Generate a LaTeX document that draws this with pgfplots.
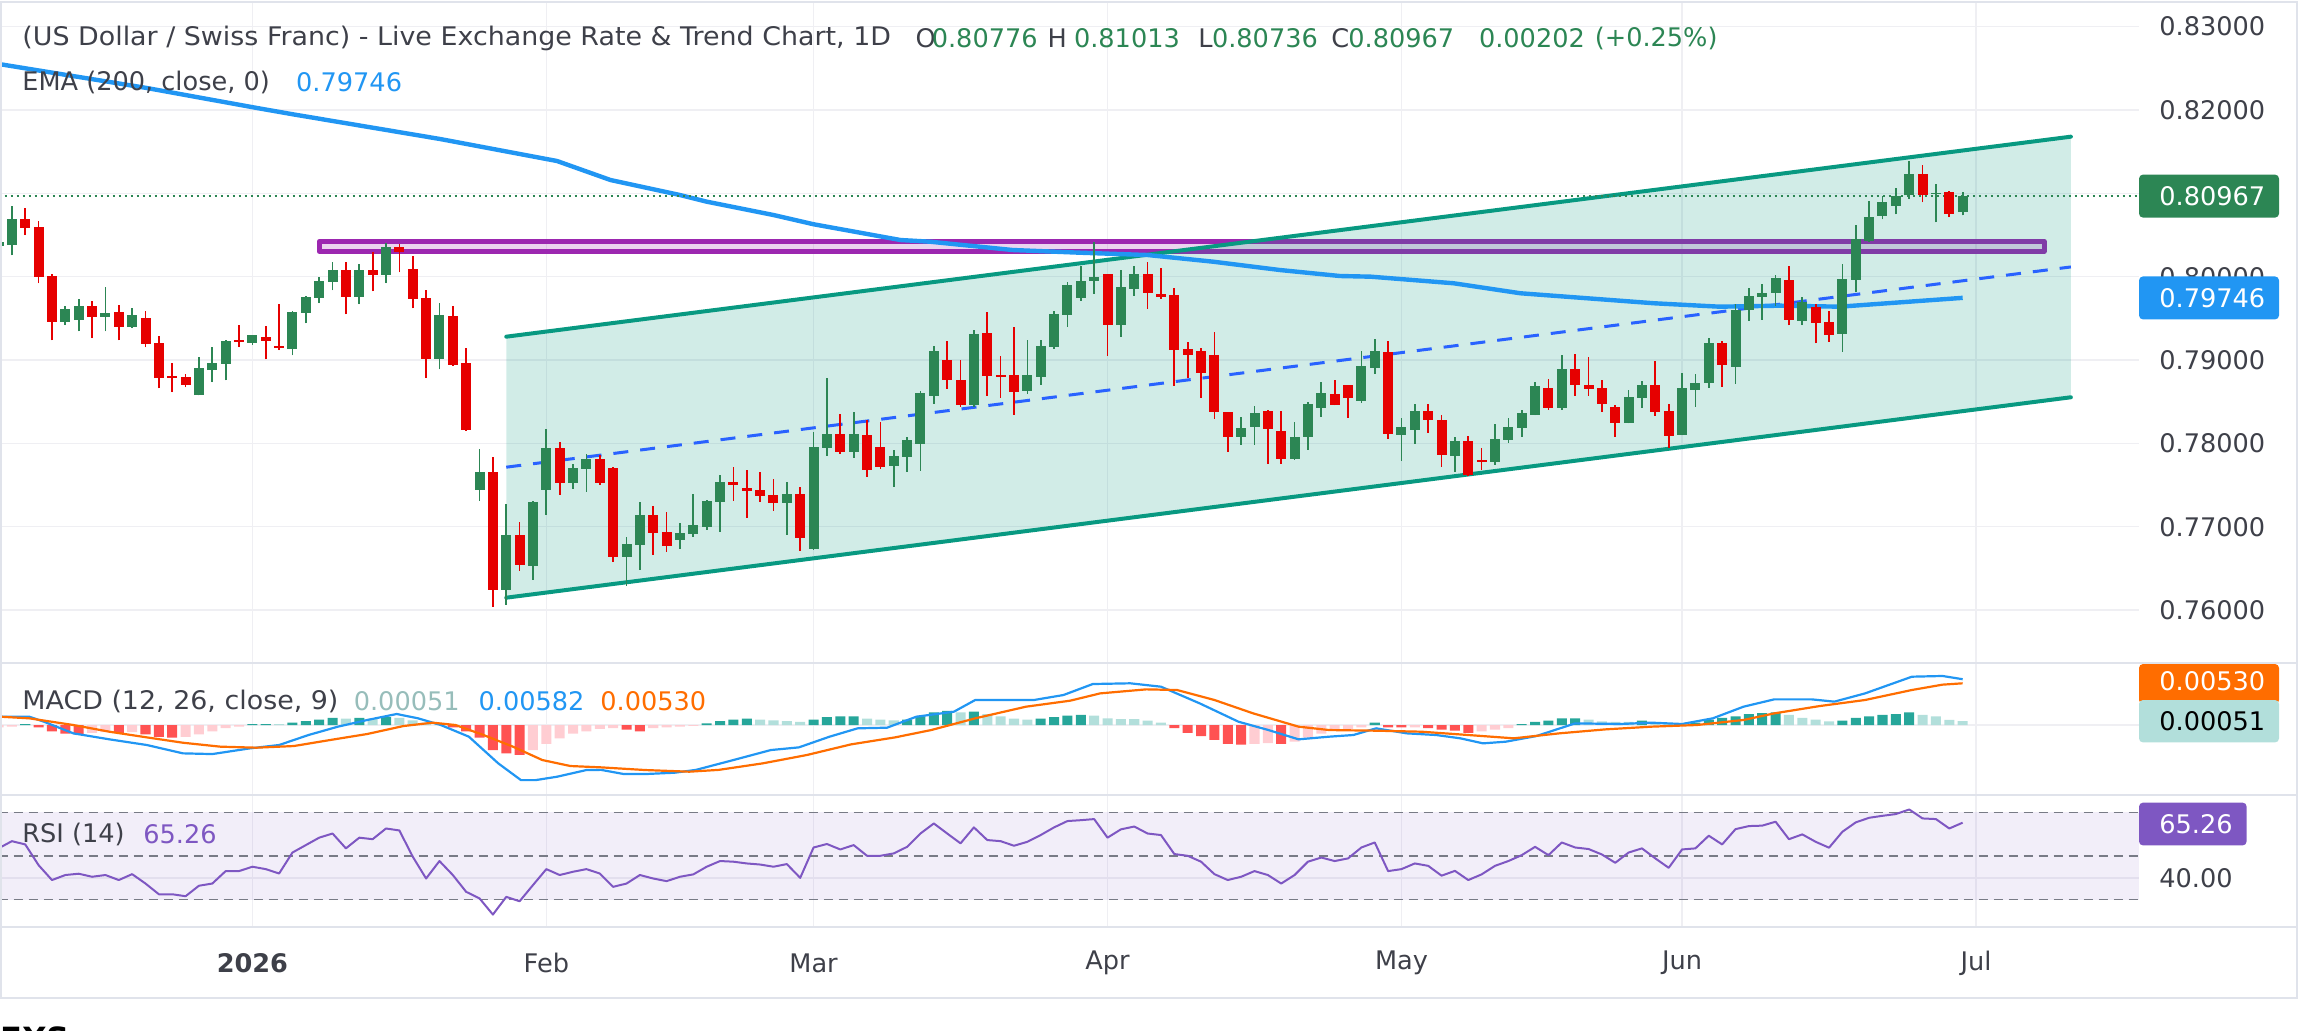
\documentclass[border=0pt]{standalone}
\usepackage{pgfplots}
\usepackage{pgfplotstable}
\pgfplotsset{compat=1.18}
\usepackage{fontspec}
\setmainfont{DejaVu Sans}
\definecolor{upg}{HTML}{2C8654}
\definecolor{dnr}{HTML}{E60000}
\definecolor{chan}{HTML}{089981}
\definecolor{midb}{HTML}{2962FF}
\definecolor{rectp}{HTML}{9C27B0}
\definecolor{emab}{HTML}{2196F3}
\definecolor{txt}{HTML}{3E4049}
\definecolor{gridc}{HTML}{EFEFF3}
\definecolor{sepc}{HTML}{E0E3EB}
\definecolor{hdg}{HTML}{26A69A}
\definecolor{hlg}{HTML}{B2DFDB}
\definecolor{hdr}{HTML}{FF5252}
\definecolor{hlr}{HTML}{FFCDD2}
\definecolor{sigo}{HTML}{FF6D00}
\definecolor{rsip}{HTML}{7E57C2}
\definecolor{rsid}{HTML}{787B86}
\newcommand\lf{\fontsize{12.8}{15}\selectfont}
\newcommand\wx[1]{\scalebox{1.05}[1]{#1}}

\pgfplotstableread{
x o h l c
-19 0.80372 0.80460 0.80340 0.80420
-18 0.80380 0.80848 0.80260 0.80692
-14 0.79460 0.79648 0.79420 0.79612
-13 0.79480 0.79732 0.79348 0.79648
-11 0.79520 0.79876 0.79348 0.79564
-9 0.79396 0.79624 0.79384 0.79540
-4 0.78580 0.79036 0.78576 0.78904
-3 0.78880 0.79156 0.78736 0.78964
-2 0.78956 0.79240 0.78760 0.79228
0 0.79208 0.79300 0.79184 0.79300
3 0.79136 0.79588 0.79060 0.79576
4 0.79568 0.79768 0.79444 0.79756
5 0.79748 0.79996 0.79684 0.79948
6 0.79940 0.80176 0.79840 0.80080
8 0.79760 0.80152 0.79672 0.80080
10 0.80024 0.80404 0.79924 0.80356
14 0.79016 0.79684 0.78892 0.79540
17 0.77444 0.77932 0.77312 0.77656
19 0.76244 0.77272 0.76064 0.76900
21 0.76532 0.77308 0.76364 0.77296
22 0.77444 0.78172 0.77144 0.77944
24 0.77528 0.77752 0.77456 0.77704
25 0.77696 0.77872 0.77420 0.77812
28 0.76640 0.76876 0.76292 0.76792
29 0.76784 0.77296 0.76484 0.77140
32 0.76844 0.77044 0.76736 0.76924
33 0.76916 0.77392 0.76880 0.77020
34 0.77000 0.77320 0.76964 0.77308
35 0.77300 0.77620 0.76940 0.77536
40 0.77288 0.77536 0.76904 0.77392
42 0.76736 0.78136 0.76724 0.77956
43 0.77948 0.78784 0.77852 0.78112
45 0.77900 0.78376 0.77828 0.78112
48 0.77732 0.77920 0.77480 0.77848
49 0.77840 0.78076 0.77660 0.78040
50 0.77996 0.78628 0.77672 0.78604
51 0.78572 0.79168 0.78476 0.79108
54 0.78464 0.79360 0.78440 0.79312
58 0.78632 0.79240 0.78596 0.78820
59 0.78800 0.79240 0.78704 0.79168
60 0.79160 0.79588 0.79136 0.79552
61 0.79544 0.79936 0.79400 0.79900
62 0.79748 0.80128 0.79712 0.79948
63 0.79952 0.80416 0.79796 0.79996
65 0.79424 0.80080 0.79280 0.79876
66 0.79856 0.80128 0.79772 0.80032
74 0.78080 0.78316 0.77984 0.78184
75 0.78200 0.78448 0.77984 0.78364
78 0.77816 0.78256 0.77804 0.78076
79 0.78080 0.78496 0.77924 0.78472
80 0.78428 0.78736 0.78320 0.78604
83 0.78512 0.79108 0.78488 0.78928
84 0.78908 0.79252 0.78836 0.79108
86 0.78104 0.78304 0.77792 0.78196
87 0.78164 0.78472 0.77996 0.78388
90 0.77852 0.78076 0.77660 0.78028
93 0.77780 0.78232 0.77744 0.78052
94 0.78044 0.78304 0.78008 0.78196
95 0.78188 0.78400 0.78080 0.78364
96 0.78344 0.78736 0.78340 0.78688
98 0.78428 0.79060 0.78404 0.78892
103 0.78248 0.78640 0.78244 0.78556
104 0.78548 0.78748 0.78428 0.78700
107 0.78104 0.78844 0.78100 0.78664
108 0.78644 0.78832 0.78440 0.78724
109 0.78728 0.79264 0.78668 0.79204
111 0.78920 0.79672 0.78716 0.79600
112 0.79604 0.79860 0.79472 0.79768
113 0.79760 0.79912 0.79484 0.79804
114 0.79808 0.80020 0.79652 0.79984
116 0.79472 0.79756 0.79420 0.79696
119 0.79316 0.80152 0.79100 0.79972
120 0.79964 0.80620 0.79816 0.80452
121 0.80432 0.80908 0.80420 0.80716
122 0.80732 0.80968 0.80692 0.80896
123 0.80852 0.81064 0.80752 0.80968
124 0.80976 0.81388 0.80932 0.81232
126 0.80992 0.81112 0.80656 0.81004
128 0.80776 0.81013 0.80736 0.80967
}\uptab

\pgfplotstableread{
x o h l c
-17 0.80692 0.80824 0.80500 0.80588
-16 0.80596 0.80668 0.79924 0.80000
-15 0.80008 0.80032 0.79240 0.79460
-12 0.79648 0.79708 0.79264 0.79520
-10 0.79576 0.79660 0.79240 0.79400
-8 0.79504 0.79588 0.79156 0.79196
-7 0.79204 0.79288 0.78664 0.78784
-6 0.78808 0.78964 0.78616 0.78788
-5 0.78796 0.78832 0.78676 0.78704
-1 0.79240 0.79420 0.79156 0.79216
1 0.79276 0.79408 0.79012 0.79232
2 0.79172 0.79672 0.79120 0.79148
7 0.80080 0.80176 0.79552 0.79760
9 0.80080 0.80300 0.79828 0.80024
11 0.80356 0.80392 0.80056 0.80300
12 0.80092 0.80248 0.79624 0.79736
13 0.79744 0.79840 0.78784 0.79016
15 0.79528 0.79648 0.78932 0.78944
16 0.78964 0.79144 0.78152 0.78164
18 0.77656 0.77836 0.76040 0.76244
20 0.76900 0.77056 0.76472 0.76544
23 0.77944 0.78016 0.77384 0.77528
26 0.77812 0.77860 0.77504 0.77528
27 0.77704 0.77716 0.76580 0.76640
30 0.77140 0.77248 0.76664 0.76928
31 0.76936 0.77176 0.76700 0.76772
36 0.77536 0.77716 0.77312 0.77504
37 0.77464 0.77680 0.77108 0.77432
38 0.77440 0.77656 0.77300 0.77372
39 0.77380 0.77572 0.77192 0.77288
41 0.77392 0.77476 0.76712 0.76868
44 0.78112 0.78352 0.77876 0.77900
46 0.78100 0.78280 0.77600 0.77684
47 0.77956 0.78256 0.77696 0.77720
52 0.79000 0.79228 0.78656 0.78764
53 0.78760 0.79000 0.78440 0.78464
55 0.79324 0.79576 0.78572 0.78812
56 0.78820 0.79048 0.78548 0.78800
57 0.78820 0.79396 0.78344 0.78620
64 0.80032 0.80032 0.79052 0.79424
67 0.80032 0.80176 0.79616 0.79808
68 0.79792 0.80104 0.79736 0.79760
69 0.79780 0.79864 0.78692 0.79124
70 0.79132 0.79216 0.78788 0.79064
71 0.79108 0.79144 0.78548 0.78848
72 0.79060 0.79336 0.78296 0.78380
73 0.78380 0.78380 0.77900 0.78080
76 0.78392 0.78400 0.77756 0.78176
77 0.78148 0.78392 0.77756 0.77816
81 0.78592 0.78760 0.78460 0.78464
82 0.78700 0.78700 0.78308 0.78548
85 0.79096 0.79228 0.78056 0.78116
88 0.78388 0.78472 0.78128 0.78284
89 0.78280 0.78340 0.77720 0.77864
91 0.78028 0.78088 0.77612 0.77624
92 0.77800 0.77948 0.77684 0.77780
97 0.78664 0.78772 0.78404 0.78428
99 0.78892 0.79072 0.78572 0.78704
100 0.78700 0.79036 0.78572 0.78656
101 0.78664 0.78760 0.78380 0.78476
102 0.78436 0.78460 0.78080 0.78248
105 0.78700 0.78988 0.78332 0.78380
106 0.78388 0.78472 0.77948 0.78092
110 0.79204 0.79228 0.78680 0.78944
115 0.79960 0.80128 0.79420 0.79484
117 0.79636 0.79672 0.79204 0.79448
118 0.79456 0.79588 0.79220 0.79304
125 0.81232 0.81340 0.80896 0.80984
127 0.81020 0.81028 0.80716 0.80756
}\dntab

\pgfplotstableread{
x h
-17 0.0001
0 0.0001
1 0.0001
3 0.0003
4 0.0005
5 0.0007
6 0.0009
8 0.0009
10 0.0010
34 0.0002
35 0.0005
36 0.0007
37 0.0008
42 0.0007
43 0.0010
44 0.0011
45 0.0011
49 0.0007
50 0.0011
51 0.0016
52 0.0018
54 0.0017
59 0.0008
60 0.0010
61 0.0012
62 0.0013
84 0.0003
95 0.0001
96 0.0004
97 0.00055
98 0.00085
99 0.00085
104 0.00055
108 0.0003
109 0.0007
110 0.0009
111 0.0011
112 0.0014
113 0.0015
114 0.0016
119 0.00055
120 0.0009
121 0.0011
122 0.0013
123 0.0014
124 0.0016
}\hdgtab
\pgfplotstableread{
x h
2 0.0001
7 0.0008
9 0.0008
11 0.0009
12 0.0006
13 0.0003
14 0.0001
38 0.0007
39 0.0006
40 0.0005
41 0.0004
46 0.0008
47 0.0007
48 0.0006
53 0.0016
55 0.0014
56 0.0011
57 0.0008
58 0.0007
63 0.0012
64 0.00085
65 0.00076
66 0.00076
67 0.00055
68 0.0003
100 0.0007
101 0.00047
102 0.0004
103 0.0004
105 0.0003
106 0.0002
107 0.0001
115 0.0013
116 0.0009
117 0.0007
118 0.00047
125 0.0013
126 0.0011
127 0.00064
128 0.00051
}\hlgtab
\pgfplotstableread{
x h
-16 -0.0003
-15 -0.0008
-14 -0.0011
-13 -0.0012
-10 -0.0010
-8 -0.0012
-7 -0.0015
-6 -0.0016
15 -0.0003
16 -0.0008
17 -0.0016
18 -0.0032
19 -0.0036
20 -0.0038
28 -0.0006
29 -0.0008
69 -0.0004
70 -0.0010
71 -0.0014
72 -0.0019
73 -0.0024
74 -0.0025
77 -0.0024
85 -0.0003
86 -0.0003
88 -0.0004
89 -0.0006
90 -0.0007
91 -0.0010
}\hdrtab
\pgfplotstableread{
x h
-19 -0.0003
-18 -0.0002
-12 -0.0010
-11 -0.0009
-9 -0.0009
-5 -0.0015
-4 -0.0012
-3 -0.0008
-2 -0.0004
-1 -0.0002
21 -0.0032
22 -0.0024
23 -0.0017
24 -0.0011
25 -0.0008
26 -0.0005
27 -0.0004
30 -0.0004
31 -0.0003
32 -0.0002
33 -0.0001
75 -0.0024
76 -0.0023
78 -0.0021
79 -0.0016
80 -0.0011
81 -0.0007
82 -0.0005
83 -0.0003
87 -0.0003
92 -0.0008
93 -0.0006
94 -0.0004
}\hlrtab

\pgfplotstableread{
x r
-19 53.5
-18 56.8
-17 55.3
-16 45.8
-15 39.0
-14 41.3
-13 41.9
-12 40.5
-11 41.3
-10 39.0
-9 41.7
-8 37.4
-7 32.5
-6 32.5
-5 31.6
-4 36.4
-3 37.4
-2 43.1
-1 43.1
0 45.1
1 44.0
2 42.0
3 51.6
4 55.0
5 58.4
6 60.3
7 53.5
8 58.4
9 57.7
10 62.6
11 61.7
12 49.7
13 39.7
14 47.7
15 41.3
16 33.6
17 30.6
18 23.2
19 31.3
20 29.3
21 36.7
22 44.0
23 41.3
24 42.8
25 44.0
26 42.0
27 35.9
28 37.4
29 41.3
30 39.7
31 38.5
32 40.5
33 41.6
34 45.1
35 47.7
36 47.4
37 46.6
38 46.1
39 45.1
40 46.3
41 40.0
42 53.9
43 55.5
44 53.0
45 55.0
46 50.1
47 50.1
48 51.2
49 54.2
50 60.3
51 64.9
52 60.3
53 55.8
54 63.1
55 57.3
56 56.8
57 54.7
58 56.5
59 59.6
60 63.1
61 66.0
62 66.4
63 66.9
64 58.4
65 62.2
66 63.5
67 60.3
68 59.6
69 50.9
70 50.1
71 47.4
72 41.7
73 39.0
74 40.5
75 43.1
76 41.3
77 37.4
78 41.3
79 47.4
80 49.3
81 47.7
82 48.9
83 53.9
84 56.2
85 43.1
86 44.0
87 46.6
88 45.5
89 41.0
90 43.2
91 39.0
92 41.6
93 45.5
94 47.7
95 50.4
96 54.2
97 50.4
98 56.2
99 53.9
100 53.2
101 50.7
102 46.9
103 51.6
104 53.5
105 48.9
106 44.6
107 53.0
108 53.5
109 59.3
110 55.3
111 62.3
112 63.7
113 63.9
114 65.7
115 57.7
116 59.9
117 56.5
118 53.8
119 61.1
120 65.4
121 67.5
122 68.4
123 69.2
124 71.3
125 67.2
126 66.9
127 62.6
128 65.26
}\rsitab

\begin{document}
\begin{tikzpicture}
\useasboundingbox (0,0) rectangle (1150pt,-515pt);
\pgfplotsset{
  every axis/.append style={
    scale only axis, anchor=north west,
    xmin=-18.89, xmax=141.2,
    axis line style={draw=none}, tick style={draw=none},
    xtick={0,22,42,64,86,107,129},
    grid=major, grid style={gridc, line width=0.7pt},
    yticklabel pos=right, scaled y ticks=false,
    yticklabel style={anchor=west, inner sep=0pt, xshift=10pt, text=txt, font=\lf},
  },
  every axis plot/.append style={line join=round},
  cwick/.style={only marks, mark=*, mark size=0pt, mark options={draw=none, fill=none},
    error bars/.cd, y dir=plus, y explicit, error mark=none,
    error bar style={#1, line width=0.85pt}},
  cbody/.style={only marks, mark=*, mark size=0pt, mark options={draw=none, fill=none},
    error bars/.cd, y dir=plus, y explicit, error mark=none,
    error bar style={#1, line width=5pt}},
}
% ---------------- main price pane
\begin{axis}[
  at={(0pt,-1pt)}, width=1069.5pt, height=330.5pt,
  ymin=0.75364, ymax=0.83296,
  xticklabels={},
  ytick={0.76,0.77,0.78,0.79,0.80,0.81,0.82,0.83},
  yticklabels={0.76000,0.77000,0.78000,0.79000,0.80000,,0.82000,0.83000},
]
\addplot[rectp, line width=2.5pt, fill=rectp, fill opacity=0.2]
  coordinates {(5,0.80304) (134.1,0.80304) (134.1,0.80422) (5,0.80422)} -- cycle;
\addplot[draw=none, fill=chan, fill opacity=0.19]
  coordinates {(19,0.7928) (136.1,0.8168) (136.1,0.78553) (19,0.76148)} -- cycle;
\addplot[chan, line width=2pt, line cap=round] coordinates {(19,0.7928) (136.1,0.8168)};
\addplot[chan, line width=2pt, line cap=round] coordinates {(19,0.76148) (136.1,0.78553)};
\addplot[midb, line width=1.5pt, dash pattern=on 7.5pt off 6pt] coordinates {(19,0.77714) (136.1,0.80117)};
\addplot[emab, line width=2.2pt] coordinates {
(-18.9,0.8255) (-7.9,0.82264) (0.35,0.82024) (3.05,0.81948) (14.05,0.81652) (22.8,0.81388)
(26.8,0.8116) (32,0.8098) (34,0.809) (39,0.8074) (42,0.80629) (48.5,0.8044) (50.7,0.8042)
(56.9,0.8032) (61.9,0.80288) (67,0.8026) (71.9,0.8018) (76.9,0.8008) (81.4,0.80008) (83.7,0.8)
(89.9,0.79921) (94.9,0.79801) (99.9,0.79741) (104.9,0.79681) (109.8,0.7964) (114.4,0.79652)
(118.8,0.7964) (128,0.79746)};
\addplot[upg, line width=1pt, dash pattern=on 1pt off 2pt] coordinates {(-19,0.80967) (141.2,0.80967)};
% wicks
\addplot[cwick=upg] table[x=x, y=l, y error expr=\thisrow{h}-\thisrow{l}] {\uptab};
\addplot[cwick=dnr] table[x=x, y=l, y error expr=\thisrow{h}-\thisrow{l}] {\dntab};
% bodies
\addplot[cbody=upg] table[x=x, y=o, y error expr={max(\thisrow{c}-\thisrow{o},0.00012)}] {\uptab};
\addplot[cbody=dnr] table[x=x, y=c, y error expr={max(\thisrow{o}-\thisrow{c},0.00012)}] {\dntab};
\end{axis}
% ---------------- MACD pane
\begin{axis}[
  at={(0pt,-331.5pt)}, width=1069.5pt, height=65.5pt,
  ymin=-0.008767, ymax=0.007878,
  xticklabels={}, ytick={0}, yticklabels={},
]
\addplot[ybar, bar width=0.75, bar shift=0pt, fill=hdg, draw=none] table[x=x,y=h] {\hdgtab};
\addplot[ybar, bar width=0.75, bar shift=0pt, fill=hlg, draw=none] table[x=x,y=h] {\hlgtab};
\addplot[ybar, bar width=0.75, bar shift=0pt, fill=hdr, draw=none] table[x=x,y=h] {\hdrtab};
\addplot[ybar, bar width=0.75, bar shift=0pt, fill=hlr, draw=none] table[x=x,y=h] {\hlrtab};
\addplot[emab, line width=1.1pt] coordinates {
(-18.9,0.00106) (-16.7,0.00106) (-15.6,0.00042) (-13.4,-0.00106) (-10.7,-0.00182) (-7.9,-0.00254)
(-5.2,-0.0036) (-3,-0.00369) (-0.2,-0.00297) (2,-0.00254) (4.2,-0.00127) (6.4,-0.00021) (8.6,0.00064)
(10.8,0.0014) (12.4,0.00085) (14.1,0) (16.2,-0.00148) (18.4,-0.00487) (20.1,-0.007) (21.2,-0.007)
(22.8,-0.00657) (25,-0.00572) (26.1,-0.0057) (27.8,-0.00623) (29.4,-0.00623) (31.6,-0.00606)
(33.2,-0.0057) (36,-0.00445) (38.8,-0.00318) (40.9,-0.00284) (43.2,-0.00148) (45.3,-0.00042)
(47.5,-0.00034) (49.7,0.00106) (52.5,0.00169) (54.1,0.00318) (55.8,0.00318) (58.5,0.00318)
(60.7,0.00381) (62.9,0.00521) (65.7,0.0053) (68.0,0.00487) (70.9,0.00275) (73.8,0.00042)
(76.05,-0.00064) (78.3,-0.00182) (80.6,-0.00148) (82.4,-0.00127) (84.1,-0.00042) (86.4,-0.00106)
(88.6,-0.00127) (90.4,-0.00169) (92.1,-0.00233) (93.8,-0.00212) (96.1,-0.0014) (99,0.00021)
(102.4,0.00013) (104.7,0.0003) (107,0.00013) (109.3,0.00085) (111.6,0.00233) (113.9,0.00326)
(116.7,0.00326) (118.4,0.00297) (120.7,0.00402) (124.2,0.00614) (126.5,0.00623) (128,0.00582)};
\addplot[sigo, line width=1.1pt] coordinates {
(-18.9,0.00106) (-16.7,0.00085) (-13.4,0) (-10.7,-0.00085) (-7.9,-0.00157) (-5.2,-0.00225)
(-2.4,-0.00275) (0.3,-0.00288) (3.1,-0.00267) (5.8,-0.00191) (8.6,-0.00114) (11.3,-0.00013)
(13.5,0.0003) (15.2,0) (17.3,-0.00127) (19.5,-0.00275) (21.7,-0.00445) (23.8,-0.00521)
(26.1,-0.00538) (29.4,-0.00572) (32.7,-0.00593) (34.9,-0.0057) (38.2,-0.00487) (41.5,-0.00381)
(44.8,-0.00246) (48.1,-0.00157) (50.8,-0.00064) (54.1,0.00085) (57.9,0.00233) (61.2,0.00309)
(63.45,0.00402) (66.9,0.00453) (69.2,0.00445) (72.0,0.00318) (74.9,0.00148) (78.3,-0.00021)
(80.6,-0.00064) (84.1,-0.00072) (87.5,-0.00085) (91,-0.00127) (94.4,-0.00169) (97.8,-0.00106)
(101.3,-0.00055) (104.7,-0.00021) (108.1,0) (111.6,0.00064) (113.9,0.00148) (117.3,0.00241)
(120.7,0.00318) (124.2,0.00445) (126.5,0.00513) (128,0.0053)};
\end{axis}
% ---------------- RSI pane
\begin{axis}[
  at={(0pt,-398pt)}, width=1069.5pt, height=65.5pt,
  ymin=17.5, ymax=77.46,
  ytick={40}, yticklabels={40.00},
  xticklabels={\textbf{2026},Feb,Mar,Apr,May,Jun,Jul},
  xticklabel style={anchor=center, yshift=-18pt, text=txt, font=\lf},
]
\addplot[draw=none, fill=rsip, fill opacity=0.1]
  coordinates {(-19,30) (141.2,30) (141.2,70) (-19,70)} -- cycle;
\addplot[rsid, line width=0.7pt, dash pattern=on 4.5pt off 3pt] coordinates {(-19,70) (141.2,70)};
\addplot[rsid, line width=0.7pt, dash pattern=on 4.5pt off 3pt] coordinates {(-19,50) (141.2,50)};
\addplot[rsid, line width=0.7pt, dash pattern=on 4.5pt off 3pt] coordinates {(-19,30) (141.2,30)};
\addplot[rsip, line width=1pt] table[x=x, y=r] {\rsitab};
\end{axis}
% ---------------- frame and separators
\draw[sepc, line width=1.2pt] (0.6pt,-0.9pt) rectangle (1148.4pt,-499pt);
\draw[sepc, line width=1pt] (0pt,-331.5pt) -- (1148.4pt,-331.5pt);
\draw[sepc, line width=1pt] (0pt,-397.5pt) -- (1148.4pt,-397.5pt);
\draw[sepc, line width=0.8pt] (0pt,-463.5pt) -- (1148.4pt,-463.5pt);
% ---------------- legends
\begin{scope}[every node/.style={anchor=west, inner sep=0pt, font=\lf, text=txt}]
\node at (11pt,-19.25pt) {\wx{(US Dollar / Swiss Franc) - Live Exchange Rate \& Trend Chart, 1D}};
\node at (457.6pt,-19.25pt) {O};
\node[text=upg] at (465.7pt,-19.25pt) {0.80776};
\node at (523.6pt,-19.25pt) {H};
\node[text=upg] at (536.8pt,-19.25pt) {0.81013};
\node at (599pt,-19.25pt) {L};
\node[text=upg] at (605.8pt,-19.25pt) {0.80736};
\node at (665.5pt,-19.25pt) {C};
\node[text=upg] at (674pt,-19.25pt) {0.80967};
\node[text=upg] at (739.3pt,-19.25pt) {0.00202};
\node[text=upg] at (797.2pt,-19.25pt) {(+0.25\%)};
\node at (11pt,-41pt) {EMA (200, close, 0)};
\node[text=emab] at (147.9pt,-41pt) {0.79746};
\node at (11pt,-350.75pt) {\wx{MACD (12, 26, close, 9)}};
\node[text=hlg!85!black] at (176.7pt,-350.75pt) {0.00051};
\node[text=emab] at (239.1pt,-350.75pt) {0.00582};
\node[text=sigo] at (300pt,-350.75pt) {0.00530};
\node at (11pt,-417pt) {RSI (14)};
\node[text=rsip] at (71.5pt,-417pt) {65.26};
\node[anchor=north west, text=black, font=\bfseries\fontsize{16}{16}\selectfont] at (0pt,-513.3pt) {FXS};
\end{scope}
% ---------------- price boxes
\fill[upg, rounded corners=2pt] (1069.5pt,-87.3pt) rectangle (1139.5pt,-108.8pt);
\node[anchor=west, inner sep=0pt, font=\lf, text=white] at (1079.5pt,-98.05pt) {0.80967};
\fill[emab, rounded corners=2pt] (1069.5pt,-138.2pt) rectangle (1139.5pt,-159.7pt);
\node[anchor=west, inner sep=0pt, font=\lf, text=white] at (1079.5pt,-148.95pt) {0.79746};
\fill[sigo, rounded corners=2pt] (1069.5pt,-332pt) rectangle (1139.5pt,-352pt);
\node[anchor=west, inner sep=0pt, font=\lf, text=white] at (1079.5pt,-340.5pt) {0.00530};
\fill[hlg, rounded corners=2pt] (1069.5pt,-350pt) rectangle (1139.5pt,-371.2pt);
\node[anchor=west, inner sep=0pt, font=\lf, text=black] at (1079.5pt,-360.6pt) {0.00051};
\fill[rsip, rounded corners=2pt] (1069.5pt,-401.3pt) rectangle (1123.3pt,-422.7pt);
\node[anchor=west, inner sep=0pt, font=\lf, text=white] at (1079.5pt,-412pt) {65.26};
\end{tikzpicture}
\end{document}
